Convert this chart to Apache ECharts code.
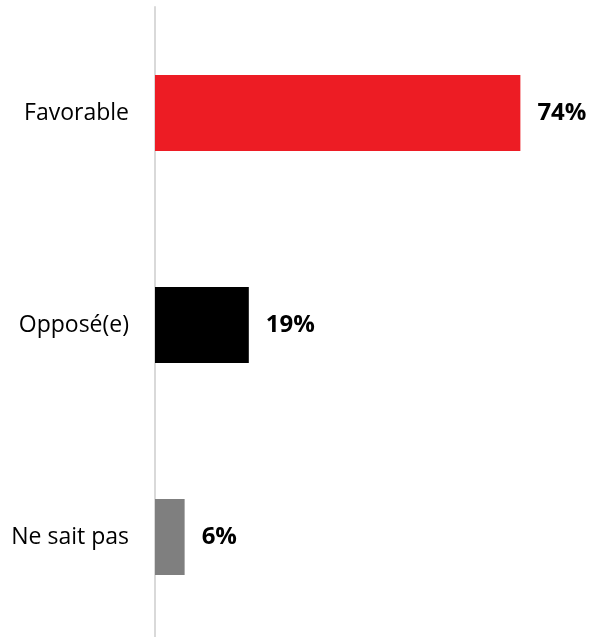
<!DOCTYPE html>
<html><head><meta charset="utf-8">
<script src="https://cdn.jsdelivr.net/npm/echarts@6/dist/echarts.min.js"></script>
<style>html,body{margin:0;padding:0;background:#fff;overflow:hidden}#c{width:592px;height:650px}</style>
</head><body><div id="c"></div>
<script>
const categories = ["Favorable", "Opposé(e)", "Ne sait pas"];
const values = [74, 19, 6];
const colors = ["#ED1C24", "#000000", "#7F7F7F"];

const chart = echarts.init(document.getElementById('c'), null, {renderer: 'canvas'});
chart.setOption({
  animation: false,
  grid: {left: 155, top: 7, width: 395, height: 636, containLabel: false, outerBoundsMode: 'none'},
  xAxis: {type: 'value', min: 0, max: 80, show: false, splitLine: {show: false}},
  yAxis: {
    type: 'category', data: categories, inverse: true,
    axisLine: {show: true, lineStyle: {color: '#D9D9D9', width: 2}},
    axisTick: {show: false},
    axisLabel: {color: '#000', fontSize: 23, fontFamily: 'Open Sans', margin: 26}
  },
  series: [{
    type: 'bar', barWidth: 76,
    data: values.map((v, i) => ({value: v, itemStyle: {color: colors[i]}})),
    label: {show: true, position: 'right', distance: 17, formatter: '{c}%',
      color: '#000', fontWeight: 'bold', fontSize: 24, fontFamily: 'Open Sans'}
  }]
});
</script></body></html>
